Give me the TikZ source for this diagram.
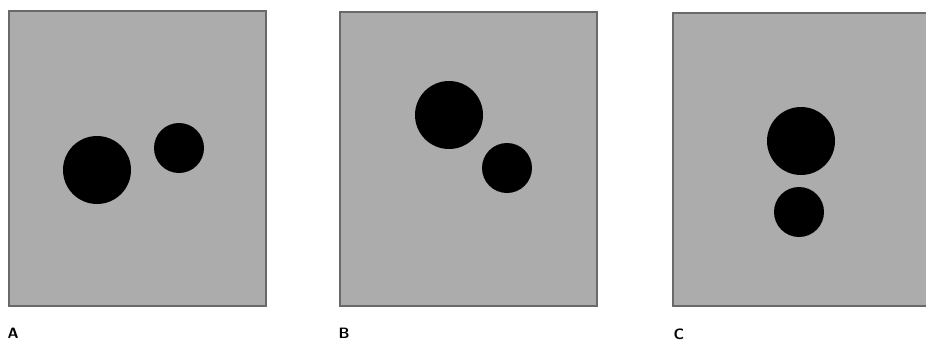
\documentclass[tikz,border=0pt]{standalone}
\begin{document}
\begin{tikzpicture}[x=1pt,y=-1pt,
  panel/.style={fill=panelgray,draw=bordergray,line width=1.4pt},
  dot/.style={circle,fill=black,inner sep=0pt,minimum size=#1},
  lab/.style={font=\sffamily\bfseries\fontsize{15}{15}\selectfont,inner sep=0pt,anchor=center}]
\definecolor{panelgray}{RGB}{172,172,172}
\definecolor{bordergray}{RGB}{105,105,105}
\useasboundingbox (0,0) rectangle (926,343);
\clip (0,0) rectangle (926,343);
% Panel A
\draw[panel] (9,11) rectangle (266,306);
\node[dot=68pt] (a1) at (97,170) {};
\node[dot=50pt] (a2) at (179,148) {};
\node[lab] (la) at (13,333) {A};
% Panel B
\draw[panel] (340,12) rectangle (597,306);
\node[dot=68pt] (b1) at (449,115) {};
\node[dot=50pt] (b2) at (507,168) {};
\node[lab] (lb) at (344,333) {B};
% Panel C
\draw[panel] (673,13) rectangle (935,306);
\node[dot=68pt] (c1) at (801,141) {};
\node[dot=50pt] (c2) at (799,212) {};
\node[lab] (lc) at (679,334) {C};
\end{tikzpicture}
\end{document}
